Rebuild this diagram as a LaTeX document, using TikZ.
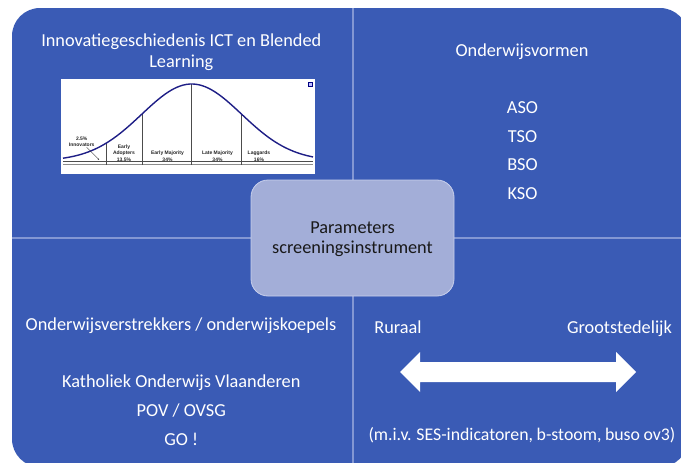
\documentclass[tikz,border=0pt]{standalone}
\usepackage{fontspec}
\usetikzlibrary{arrows.meta}
\setmainfont{Carlito}
\newfontfamily\chartfont{Liberation Sans}
\definecolor{qblue}{HTML}{3A5BB5}
\definecolor{qline}{HTML}{8397D3}
\definecolor{hubfill}{HTML}{A3AED8}
\definecolor{hubline}{HTML}{C9D0EC}
\definecolor{bellcol}{HTML}{1E1E86}
\tikzset{
  quadtxt/.style={text=white, font=\fontsize{18.3}{21}\selectfont, inner sep=0pt, anchor=base},
  hubtxt/.style={text=black!90, font=\fontsize{18.3}{21}\selectfont, inner sep=0pt, anchor=base},
  charttxt/.style={text=black!85, font=\chartfont\bfseries\fontsize{5}{6}\selectfont, inner sep=0pt, anchor=center},
  divider/.style={draw=qline, line width=1.3pt},
  declare function={bell(\x)=161-77*exp(-0.5*((\x-191.7)/50)^2);}
}
\begin{document}
\begin{tikzpicture}[x=1pt, y=-1pt]
\useasboundingbox (0,0) rectangle (681,463);
\fill[white] (0,0) rectangle (681,463);
\clip (0,0) rectangle (681,463);

% matrix background and quadrant dividers
\fill[qblue, rounded corners=28pt] (12,8) rectangle (688,467);
\draw[divider] (353,8) -- (353,467);
\draw[divider] (12,238) -- (688,238);

% adoption curve picture
\fill[white] (61,79) rectangle (315,174);
\draw[black!70, line width=0.6pt] (63,161.5) -- (313,161.5);
\draw[black!45, line width=0.6pt] (63,164.5) -- (313,164.5);
\foreach \vx in {106.7,142.3,191.7,241.7}
  \draw[black!70, line width=0.8pt] (\vx,{bell(\vx)}) -- (\vx,165);
\draw[bellcol, line width=1.4pt, smooth] plot[domain=63:313, samples=80] (\x,{bell(\x)});
\fill[blue!25, draw=blue!50!black, line width=0.3pt] (308,82) rectangle (312,86);
\node[charttxt] (inn1) at (81.7,138.3) {2.5\%};
\node[charttxt] (inn2) at (81.7,144.5) {Innovators};
\coordinate (innTip) at (99.3,160);
\draw[black!80, line width=0.4pt, -{Latex[length=1.6pt,width=1.6pt]}] (inn2.south east) ++(-8,0.8) -- (innTip);
\node[charttxt] (ea1) at (124,147.3) {Early};
\node[charttxt] (ea2) at (124,153.5) {Adopters};
\node[charttxt] (ea3) at (124,159.3) {13.5\%};
\node[charttxt] (em1) at (167.5,153.5) {Early Majority};
\node[charttxt] (em2) at (167.5,159.3) {34\%};
\node[charttxt] (lm1) at (217.5,153.5) {Late Majority};
\node[charttxt] (lm2) at (217.5,159.3) {34\%};
\node[charttxt] (lg1) at (259,153.5) {Laggards};
\node[charttxt] (lg2) at (259,159.3) {16\%};

% top left quadrant
\node[quadtxt] (tl1) at (181.3,46.7) {Innovatiegeschiedenis ICT en Blended};
\node[quadtxt] (tl2) at (181.3,67.7) {Learning};

% top right quadrant
\node[quadtxt] (tr0) at (522,56.5) {Onderwijsvormen};
\node[quadtxt] (aso) at (522.5,113.3) {ASO};
\node[quadtxt] (tso) at (522.5,142.3) {TSO};
\node[quadtxt] (bso) at (522.5,170.7) {BSO};
\node[quadtxt] (kso) at (522.5,199.2) {KSO};

% bottom left quadrant
\node[quadtxt] (bl0) at (181,330) {Onderwijsverstrekkers / onderwijskoepels};
\node[quadtxt] (bl1) at (181.3,387.3) {Katholiek Onderwijs Vlaanderen};
\node[quadtxt] (bl2) at (181.3,416.5) {POV / OVSG};
\node[quadtxt] (bl3) at (181.3,445.8) {GO !};

% bottom right quadrant
\node[quadtxt] (rur) at (398,333.5) {Ruraal};
\node[quadtxt] (gro) at (619.5,333.5) {Grootstedelijk};
\fill[white] (400,372) -- (420,352) -- (420,362) -- (616,362) -- (616,352)
  -- (636,372) -- (616,392) -- (616,382) -- (420,382) -- (420,392) -- cycle;
\node[quadtxt, font=\fontsize{17.8}{21}\selectfont] (ses) at (522,440.5)
  {\spaceskip=0.2em\relax (m.i.v. SES-indicatoren, b-stoom, buso ov3)};

% central parameter box
\node[draw=hubline, fill=hubfill, line width=0.8pt, rounded corners=17pt,
      minimum width=203pt, minimum height=116pt, inner sep=0pt] (hub) at (352.5,238) {};
\node[hubtxt] (hub1) at (352.5,233.3) {Parameters};
\node[hubtxt] (hub2) at (352.5,253.3) {screeningsinstrument};
\end{tikzpicture}
\end{document}
